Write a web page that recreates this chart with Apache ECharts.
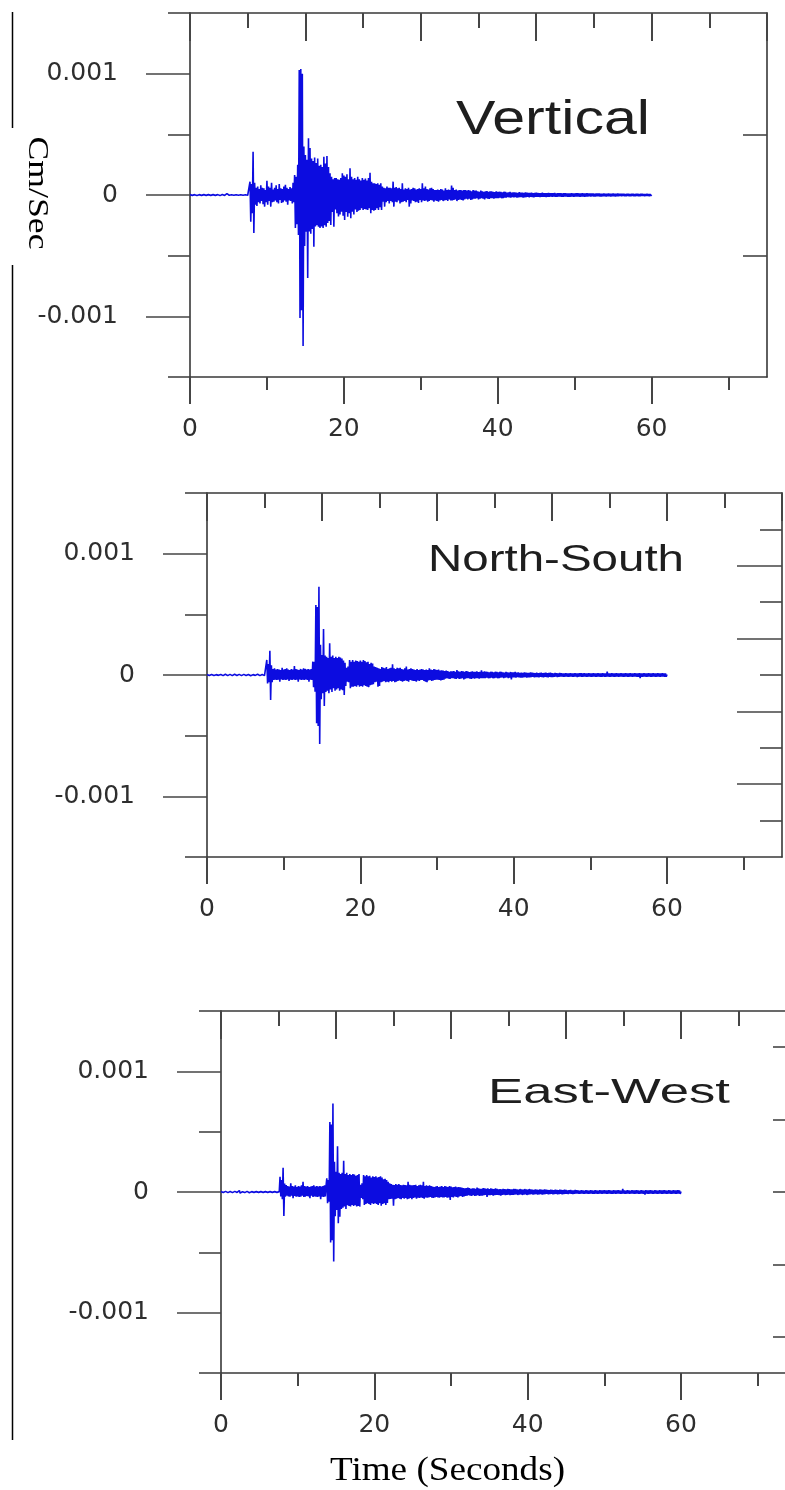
<!DOCTYPE html>
<html><head><meta charset="utf-8">
<script src="https://cdn.jsdelivr.net/npm/echarts@6/dist/echarts.min.js"></script>
<style>html,body{margin:0;padding:0;background:#fff}#c{width:785px;height:1490px}</style>
</head><body><div id="c"></div>
<script>
// Sample spacing of the traces (seconds)
const SAMPLE_DT = 0.1;
// Ground velocity, in units of 1e-6 cm/s, one sample every SAMPLE_DT seconds from t = 0 to 60 s
const vertical = [
3,-2,4,-3,2,-4,3,-2,10,-4, 2,-3,3,-2,4,-3,2,-4,3,-2, 4,-3,2,-3,3,-2,4,-3,2,-3, 3,-4,2,-3,4,-2,3,-3,12,-5,
2,-3,4,-2,3,-4,2,-3,11,-4, 3,-2,4,-3,2,-4,3,-2,4,-3, 2,-4,3,-2,4,-3,2,-3,3,-2, 4,-3,2,-4,3,-2,4,-3,110,-220,
90,-150,357,-313,100,-80,60,-90,70,-60, 50,-70,80,-50,60,-75,55,-96,40,-60,
118,-80,70,-50,60,-96,100,-60,45,-55, 60,-45,80,-60,50,-70,90,-40,55,-65,
50,-60,70,-45,85,-55,60,-80,50,-45, 65,-50,55,-70,100,-60,165,-272,150,-240,
250,-330,1030,-1013,1038,-950,1000,-1244,400,-420, 330,-302,290,-685,467,-300,387,-320,300,-280,
280,-426,310,-260,263,-250,300,-261,240,-272, 250,-260,230,-272,316,-250,260,-261,321,-230,
230,-215,180,-247,150,-140,130,-261,140,-120, 140,-150,130,-178,125,-160,140,-137,180,-170,
160,-206,150,-140,170,-180,130,-150,220,-192, 150,-137,130,-160,140,-120,125,-140,150,-130,
130,-124,120,-110,140,-124,125,-115,135,-120, 120,-124,140,-110,184,-150,110,-124,96,-130,
96,-124,90,-110,96,-124,85,-100,96,-124, 69,-55,60,-96,55,-60,69,-50,60,-70,
60,-50,55,-60,110,-96,60,-55,65,-60, 55,-45,60,-70,50,-60,96,-55,45,-50,
55,-60,50,-41,60,-96,45,-70,50,-45, 60,-50,55,-60,45,-55,50,-65,55,-41,
50,-60,96,-45,55,-50,70,-45,50,-55, 45,-50,55,-41,60,-45,50,-55,41,-45,
41,-50,45,-55,40,-45,50,-41,45,-50, 36,-45,55,-41,40,-50,45,-36,40,-45,
77,-45,60,-40,41,-36,45,-50,36,-41, 40,-36,41,-40,36,-45,40,-36,41,-30,
36,-36,41,-30,36,-40,30,-36,41,-30, 36,-30,36,-27,30,-36,27,-30,36,-27,
30,-30,27,-36,30,-27,33,-30,27,-33, 30,-27,30,-25,27,-30,25,-27,30,-25,
27,-25,27,-22,25,-27,22,-25,27,-22, 25,-22,20,-18,22,-20,25,-22,20,-18,
22,-20,22,-18,20,-22,18,-20,24,-18, 20,-18,20,-22,18,-20,22,-18,20,-16,
18,-20,18,-16,20,-18,16,-20,18,-16, 20,-16,18,-15,16,-18,15,-16,20,-15,
16,-15,16,-18,15,-16,18,-15,16,-14, 15,-16,15,-14,18,-15,14,-16,15,-14,
16,-14,16,-15,14,-16,15,-14,16,-13, 14,-15,14,-16,13,-14,15,-13,14,-15,
13,-13,14,-12,15,-13,12,-14,13,-12, 14,-12,13,-14,12,-13,14,-12,13,-11,
12,-13,12,-11,13,-12,11,-13,12,-11, 13,-11,12,-13,11,-12,10,-11,12,-10,
11,-12,11,-10,12,-11,10,-12,11,-10, 12,-10,11,-12,10,-11,12,-10,11,-9,
10,-11,10,-9,11,-10,9,-11,10,-9, 11,-10,9,-11,10,-9,11,-10,9,-10,
11,-9,10,-11,9,-10,11,-9,10,-8, 9,-10,9,-8,10,-9,8,-10,9,-8,
3];
const northSouth = [
4,-3,5,-4,3,-5,4,-3,6,-4, 5,-4,3,-6,4,-3,8,-5,4,-3, 3,-5,4,-3,6,-4,3,-5,4,-6, 5,-3,4,-5,3,-4,6,-3,5,-4,
4,-6,5,-3,4,-5,3,-4,5,-3, 6,-4,3,-5,4,-3,5,-6,4,-3, 3,-5,4,-3,5,-4,6,-3,4,-5, 5,-3,4,-6,3,-5,4,-3,124,-69,
90,-60,200,-206,80,-60,50,-41,55,-38, 45,-41,50,-38,45,-55,41,-36,60,-41,
45,-38,50,-41,55,-36,45,-50,41,-38, 50,-41,45,-36,74,-41,50,-38,45,-55,
41,-36,50,-41,45,-38,55,-41,50,-36, 45,-41,50,-55,45,-38,50,-41,110,-100,
110,-137,577,-398,560,-420,728,-569,250,-200, 165,-150,379,-255,160,-140,150,-130,140,-150,
261,-120,150,-140,160,-110,140,-130,150,-120, 140,-110,150,-130,145,-120,135,-125,120,-165,
100,-90,60,-55,70,-60,124,-110,110,-96, 124,-96,110,-90,120,-96,115,-85,110,-96,
120,-90,110,-96,124,-85,115,-90,105,-96, 110,-100,90,-85,100,-80,95,-75,69,-60,
65,-55,60,-96,55,-90,50,-60,65,-55, 60,-50,55,-60,65,-55,50,-60,55,-50,
60,-55,88,-50,55,-60,50,-55,60,-50, 55,-45,60,-50,50,-55,45,-50,55,-45,
69,-50,45,-55,50,-41,55,-45,50,-48, 45,-50,41,-55,50,-45,41,-50,45,-41,
50,-41,45,-50,41,-55,45,-60,41,-45, 55,-41,45,-50,41,-45,50,-41,45,-38,
41,-38,45,-41,36,-45,38,-41,36,-38, 33,-30,36,-27,33,-30,27,-33,30,-27,
30,-27,33,-30,27,-33,40,-27,30,-33, 27,-30,33,-27,30,-36,27,-30,33,-27,
30,-27,25,-30,27,-33,30,-25,27,-30, 27,-25,30,-27,25,-30,27,-25,38,-27,
25,-27,30,-25,27,-22,25,-27,22,-25, 27,-22,25,-27,22,-25,27,-22,25,-27,
22,-25,27,-22,25,-20,22,-25,20,-22, 25,-20,22,-25,20,-22,25,-36,22,-20,
22,-20,25,-22,20,-18,22,-20,18,-22, 20,-22,18,-20,22,-18,20,-22,18,-20,
18,-20,22,-18,20,-16,18,-20,16,-18, 20,-18,16,-20,18,-16,20,-18,16,-20,
18,-16,20,-18,16,-20,18,-16,20,-18, 16,-18,14,-16,18,-14,16,-18,14,-16,
18,-14,16,-12,14,-16,12,-14,16,-12, 14,-16,12,-14,16,-12,14,-16,12,-14,
16,-12,14,-17,12,-14,16,-12,15,-16, 12,-14,16,-12,14,-16,13,-14,16,-12,
14,-16,12,-14,16,-12,14,-15,12,-14, 16,-12,14,-16,12,-15,16,-12,14,-16,
12,-14,28,-12,14,-16,12,-14,16,-12, 14,-15,12,-14,16,-12,14,-16,12,-13,
15,-12,14,-16,12,-14,16,-12,13,-16, 12,-14,16,-12,14,-16,12,-13,16,-12,
14,-16,12,-14,16,-25,14,-16,12,-14, 16,-12,13,-16,12,-14,15,-12,14,-16,
12,-14,16,-12,14,-15,12,-14,16,-12, 14,-16,12,-13,16,-12,14,-16,12,-14,
5];
const eastWest = [
4,-5,3,-4,6,-3,5,-4,3,-5, 5,-3,4,-6,3,-5,4,-3,5,-4, 3,-4,5,-3,12,-10,4,-5,3,-4, 6,-5,4,-3,5,-4,3,-6,4,-5,
3,-4,5,-3,4,-12,3,-4,5,-3, 4,-5,3,-4,6,-3,5,-4,3,-5, 5,-3,4,-5,3,-4,6,-3,4,-5, 3,-4,5,-3,4,-5,3,126,-38,100,
-60,201,-198,70,-38,58,-30,50,-36,45, -38,72,-30,50,-52,45,-33,55,-38,41,
-36,50,-41,45,-38,55,-30,85,-41,50, -38,45,-33,50,-36,41,-52,45,-30,50,
-41,55,-36,45,-38,50,-41,45,-36,50, -60,45,-38,50,-41,55,-36,50,113,-94,
100,-80,580,-419,560,-400,733,-576,250,-200, 168,-150,380,-259,160,-204,150,-140,160,-130,
259,-120,150,-140,160,-110,140,-115,150,-120, 140,-107,150,-115,145,-110,135,-121,140,-115,
150,-121,60,-50,72,-60,140,-107,130,-100, 140,-94,130,-100,135,-107,120,-94,130,-100,
125,-94,130,-100,120,-107,125,-94,130,-113, 120,-100,105,-94,110,-107,100,-90,85,-60,
72,-58,65,-55,60,-113,58,-60,65,-55, 60,-50,65,-55,58,-60,55,-50,60,-55,
58,-50,55,-60,85,-55,60,-50,55,-60, 55,-50,58,-45,60,-55,50,-48,55,-50,
60,-45,55,-50,85,-55,50,-45,55,-48, 50,-45,55,-41,50,-48,45,-50,41,-45,
45,-41,50,-45,41,-48,45,-41,50,-45, 41,-45,50,-41,45,-48,41,-45,50,-66,
45,-41,38,-45,41,-36,45,-41,38,-45, 41,-36,38,-33,36,-41,33,-36,30,-33,
33,-30,36,-27,33,-30,27,-33,30,-27, 30,-33,27,-30,36,-27,30,-33,27,-30,
27,-30,33,-27,30,-25,27,-40,30,-27, 25,-27,30,-25,27,-30,25,-27,30,-25,
27,-25,22,-27,25,-30,22,-25,27,-22, 25,-27,22,-25,27,-22,25,-27,22,-25,
22,-25,27,-22,25,-20,22,-25,20,-22, 25,-20,22,-25,20,-22,25,-20,22,-25,
20,-22,25,-20,22,-18,20,-22,18,-20, 22,-18,20,-22,18,-20,22,-18,20,-22,
18,-20,22,-18,20,-16,18,-20,16,-18, 20,-16,18,-20,16,-18,20,-16,18,-20,
16,-18,20,-16,18,-20,16,-18,20,-16, 18,-16,14,-18,16,-14,18,-16,14,-18,
14,-16,18,-14,16,-12,14,-16,12,-14, 16,-12,14,-16,12,-14,16,-12,14,-16,
12,-14,16,-13,14,-16,12,-15,16,-12, 14,-16,12,-14,15,-12,14,-16,13,-14,
16,-12,14,-15,12,-14,16,-12,14,-16, 12,-15,16,-12,14,-16,13,-14,16,-12,
14,-16,12,-14,25,-12,14,-16,12,-14, 15,-12,14,-16,12,-13,16,-12,14,-15,
12,-14,16,-12,13,-16,12,-14,15,-12, 14,-16,12,-22,16,-12,14,-15,12,-14,
16,-12,13,-16,12,-14,16,-12,14,-16, 12,-14,16,-12,14,-15,12,-14,16,-12,
14,-16,12,-14,16,-12,13,-16,12,-14, 16,-12,14,-15,12,-14,16,-12,14,-16,
4];

const panelTitles = ['Vertical', 'North-South', 'East-West'];
const traces = [vertical, northSouth, eastWest];
const xTickValues = [0, 20, 40, 60];
const xTickLabels = ['0', '20', '40', '60'];
const xMinorTickValues = [10, 30, 50, 70];
const topTickValues = [0, 15, 30, 45, 60, 75];
const topMinorTickValues = [7.5, 22.5, 37.5, 52.5, 67.5];
const yTickValues = [-0.001, 0, 0.001];
const yTickLabels = ['-0.001', '0', '0.001'];
const yMinorTickValues = [-0.0015, -0.0005, 0.0005, 0.0015];
const rightTickValues = [[-0.0005, 0.0005], [-0.0009, -0.0003, 0.0003, 0.0009], []];
const rightMinorTickValues = [[], [-0.0012, -0.0006, 0, 0.0006, 0.0012], [-0.0012, -0.0006, 0, 0.0006, 0.0012]];
const X_RANGE = [0, 75];
const Y_RANGE = [-0.0015, 0.0015];

// ---- layout / style ----
const grids = [
  {left: 190, top: 13, width: 577, height: 364},
  {left: 207, top: 493, width: 575, height: 364},
  {left: 221, top: 1011, width: 575, height: 362}
];
const rightMajorLen = [24, 45, 0];
const rightMinorLen = [0, 22, 23];
const AXIS_COLOR = '#383838';
const TICK_COLOR = '#454545';
const LABEL_FONT = 'DejaVu Sans';
const LABEL_SIZE = 25;
const LABEL_COLOR = '#2e2e2e';

function pickLabel(values, labels) {
  return function (v) {
    for (let i = 0; i < values.length; i++) if (Math.abs(values[i] - v) < 1e-9) return labels[i];
    return '';
  };
}

const xAxes = [], yAxes = [], series = [];
grids.forEach(function (g, i) {
  const base = {type: 'value', gridIndex: i, min: X_RANGE[0], max: X_RANGE[1], splitLine: {show: false}};
  const lineOn = {show: true, onZero: false, lineStyle: {color: AXIS_COLOR, width: 1.6}};
  const lineOff = {show: false, onZero: false};
  xAxes.push(Object.assign({}, base, {
    position: 'bottom', axisLine: lineOn,
    axisTick: {show: true, inside: false, length: 27, customValues: xTickValues, lineStyle: {color: TICK_COLOR, width: 2}},
    axisLabel: {show: true, customValues: xTickValues, margin: 40, fontFamily: LABEL_FONT, fontSize: LABEL_SIZE, color: LABEL_COLOR,
      formatter: pickLabel(xTickValues, xTickLabels)}
  }));
  xAxes.push(Object.assign({}, base, {
    position: 'bottom', axisLine: lineOff,
    axisTick: {show: true, inside: false, length: 13, customValues: xMinorTickValues, lineStyle: {color: TICK_COLOR, width: 2}},
    axisLabel: {show: false}
  }));
  xAxes.push(Object.assign({}, base, {
    position: 'top', axisLine: lineOn,
    axisTick: {show: true, inside: true, length: 28, customValues: topTickValues, lineStyle: {color: TICK_COLOR, width: 2}},
    axisLabel: {show: false}
  }));
  xAxes.push(Object.assign({}, base, {
    position: 'top', axisLine: lineOff,
    axisTick: {show: true, inside: true, length: 15, customValues: topMinorTickValues, lineStyle: {color: TICK_COLOR, width: 2}},
    axisLabel: {show: false}
  }));

  const ybase = {type: 'value', gridIndex: i, min: Y_RANGE[0], max: Y_RANGE[1], splitLine: {show: false}};
  yAxes.push(Object.assign({}, ybase, {
    position: 'left', axisLine: lineOn,
    axisTick: {show: true, inside: false, length: 44, customValues: yTickValues, lineStyle: {color: TICK_COLOR, width: 1.6}},
    axisLabel: {show: true, customValues: yTickValues, margin: 72, fontFamily: LABEL_FONT, fontSize: LABEL_SIZE, color: LABEL_COLOR,
      formatter: pickLabel(yTickValues, yTickLabels)}
  }));
  yAxes.push(Object.assign({}, ybase, {
    position: 'left', axisLine: lineOff,
    axisTick: {show: true, inside: false, length: 22, customValues: yMinorTickValues, lineStyle: {color: TICK_COLOR, width: 1.6}},
    axisLabel: {show: false}
  }));
  yAxes.push(Object.assign({}, ybase, {
    position: 'right', axisLine: lineOn,
    axisTick: {show: rightTickValues[i].length > 0, inside: true, length: rightMajorLen[i] || 1, customValues: rightTickValues[i], lineStyle: {color: TICK_COLOR, width: 1.6}},
    axisLabel: {show: false}
  }));
  yAxes.push(Object.assign({}, ybase, {
    position: 'right', axisLine: lineOff,
    axisTick: {show: rightMinorTickValues[i].length > 0, inside: true, length: rightMinorLen[i] || 1, customValues: rightMinorTickValues[i], lineStyle: {color: TICK_COLOR, width: 1.6}},
    axisLabel: {show: false}
  }));

  series.push({
    type: 'line', xAxisIndex: i * 4, yAxisIndex: i * 4, showSymbol: false, symbol: 'none',
    sampling: null, silent: true,
    lineStyle: {color: '#0c0ce0', width: 1.6},
    data: traces[i].map(function (v, k) { return [k * SAMPLE_DT, v * 1e-6]; })
  });
});

// text measuring for the stretched lettering of the original figure
const mctx = document.createElement('canvas').getContext('2d');
function stretch(text, size, family, targetWidth) {
  mctx.font = size + 'px ' + family;
  return targetWidth / mctx.measureText(text).width;
}

// panel titles: [left x, cap-top y, baseline y, width]
const titleBoxes = [[456, 102, 137, 194], [428, 547, 573, 256], [488, 1080, 1105, 242]];
const graphics = [];
titleBoxes.forEach(function (b, i) {
  const size = (b[2] - b[1]) / 0.716;
  graphics.push({
    type: 'text', x: b[0], y: b[2] - 0.33 * size, scaleX: stretch(panelTitles[i], size, '"Liberation Sans"', b[3]),
    style: {text: panelTitles[i], fontSize: size, fontFamily: 'Liberation Sans', fill: '#1e1e1e', textAlign: 'left', textVerticalAlign: 'middle'}
  });
});
// y axis name (rotated) and x axis name
const cmSize = 30;
graphics.push({
  type: 'text', x: 37, y: 193, rotation: -Math.PI / 2, scaleX: stretch('Cm/Sec', cmSize, '"Liberation Serif"', 113),
  style: {text: 'Cm/Sec', fontSize: cmSize, fontFamily: 'Liberation Serif', fill: '#000', textAlign: 'center', textVerticalAlign: 'middle'}
});
const tSize = 33;
graphics.push({
  type: 'text', x: 330, y: 1482 - 0.33 * tSize, scaleX: stretch('Time (Seconds)', tSize, '"Liberation Serif"', 235),
  style: {text: 'Time (Seconds)', fontSize: tSize, fontFamily: 'Liberation Serif', fill: '#000', textAlign: 'left', textVerticalAlign: 'middle'}
});
// left frame line of the composite figure
graphics.push({type: 'line', shape: {x1: 12.5, y1: 12, x2: 12.5, y2: 128}, style: {stroke: '#000', lineWidth: 1.5}});
graphics.push({type: 'line', shape: {x1: 12.5, y1: 265, x2: 12.5, y2: 1440}, style: {stroke: '#000', lineWidth: 1.5}});

const chart = echarts.init(document.getElementById('c'), null, {renderer: 'canvas'});
chart.setOption({
  animation: false,
  backgroundColor: '#fff',
  grid: grids.map(function (g) { return Object.assign({containLabel: false, outerBoundsMode: 'none'}, g); }),
  xAxis: xAxes,
  yAxis: yAxes,
  series: series,
  graphic: graphics
});
</script></body></html>
